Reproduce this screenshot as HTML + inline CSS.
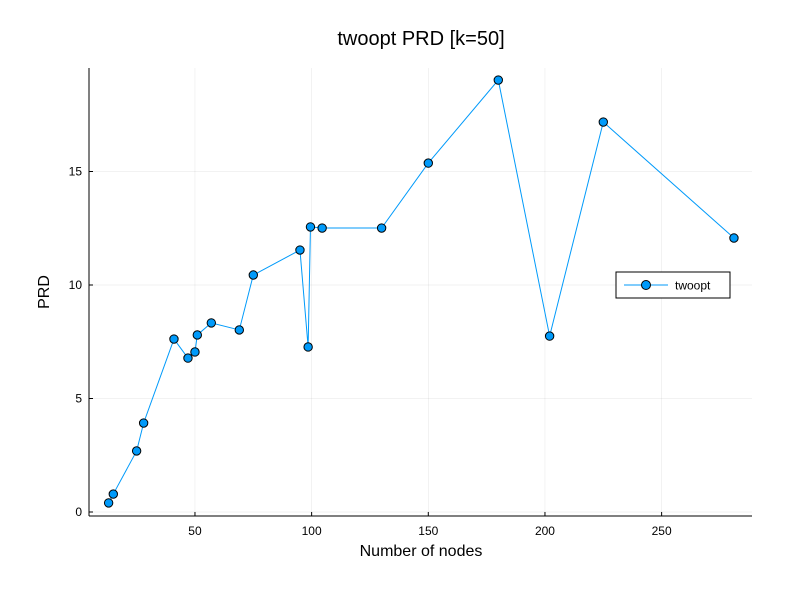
<!DOCTYPE html>
<html><head><meta charset="utf-8"><style>
body{margin:0;background:#fff;font-family:"Liberation Sans",sans-serif}
</style></head><body>
<svg id="chart" width="800" height="600" xmlns="http://www.w3.org/2000/svg" font-family="Liberation Sans, sans-serif">
<rect width="800" height="600" fill="#fff"/>
<text x="421" y="45" text-anchor="middle" font-size="20" fill="#000">twoopt PRD [k=50]</text>
<g id="grid"></g>
<g id="axes"></g>
<g id="series"></g>
<text x="421" y="556" text-anchor="middle" font-size="16">Number of nodes</text>
<text x="49" y="292" text-anchor="middle" font-size="16" transform="rotate(-90 49 292)">PRD</text>
<g>
<rect x="616" y="272" width="114" height="26" fill="#fff" stroke="#000" stroke-width="1"/>
<line x1="624" y1="285" x2="668" y2="285" stroke="#009AFA" stroke-width="1"/>
<circle cx="646" cy="285" r="4.5" fill="#009AFA" stroke="#000" stroke-width="1"/>
<text x="675" y="289.5" font-size="12">twoopt</text>
</g>
</svg>
<script>
const nodes=[13,15,25,28,41,47,50,51,57,69,75,95,98.5,99.5,104.5,130,150,180,202,225,281];
const prd=[0.40,0.79,2.69,3.92,7.62,6.78,7.05,7.80,8.33,8.02,10.44,11.54,7.27,12.56,12.51,12.51,15.37,19.03,7.75,17.18,12.07];
const xTicks=[50,100,150,200,250];
const yTicks=[0,5,10,15];
const NS="http://www.w3.org/2000/svg";
const L=89,R=752,T=68,B=516;
const xs=v=>78.3+v*2.3333;
const ys=v=>512-v*22.7;
function mk(tag,attrs,parent){const e=document.createElementNS(NS,tag);for(const k in attrs)e.setAttribute(k,attrs[k]);document.getElementById(parent).appendChild(e);return e;}
xTicks.forEach(t=>{
 const g=mk('line',{x1:xs(t),x2:xs(t),y1:T,y2:B,stroke:'#000','stroke-opacity':0.1,'stroke-width':0.5},'grid');
 
 
 const tk=mk('line',{x1:xs(t),x2:xs(t),y1:B,y2:B-4,stroke:'#000'},'axes');
 
 
 const tx=mk('text',{x:xs(t),y:B+19,'text-anchor':'middle','font-size':12},'axes');tx.textContent=t;
 
 
});
yTicks.forEach(t=>{
 const g=mk('line',{x1:L,x2:R,y1:ys(t),y2:ys(t),stroke:'#000','stroke-opacity':0.1,'stroke-width':0.5},'grid');
 
 
 const tk=mk('line',{x1:L,x2:L+4,y1:ys(t),y2:ys(t),stroke:'#000'},'axes');
 
 
 const tx=mk('text',{x:L-7,y:ys(t)+4,'text-anchor':'end','font-size':12},'axes');tx.textContent=t;
 
 
});
const xa=mk('line',{x1:L,x2:R,y1:B,y2:B,stroke:'#000'},'axes');


const ya=mk('line',{x1:L,x2:L,y1:T,y2:B,stroke:'#000'},'axes');


const pts=nodes.map((n,i)=>xs(n)+','+ys(prd[i])).join(' ');
const pl=mk('polyline',{points:pts,fill:'none',stroke:'#009AFA','stroke-width':1},'series');


nodes.forEach((n,i)=>{
 const c=mk('circle',{cx:xs(n),cy:ys(prd[i]),r:4.2,fill:'#009AFA',stroke:'#000','stroke-width':1},'series');
 
 
});
</script>
</body></html>
